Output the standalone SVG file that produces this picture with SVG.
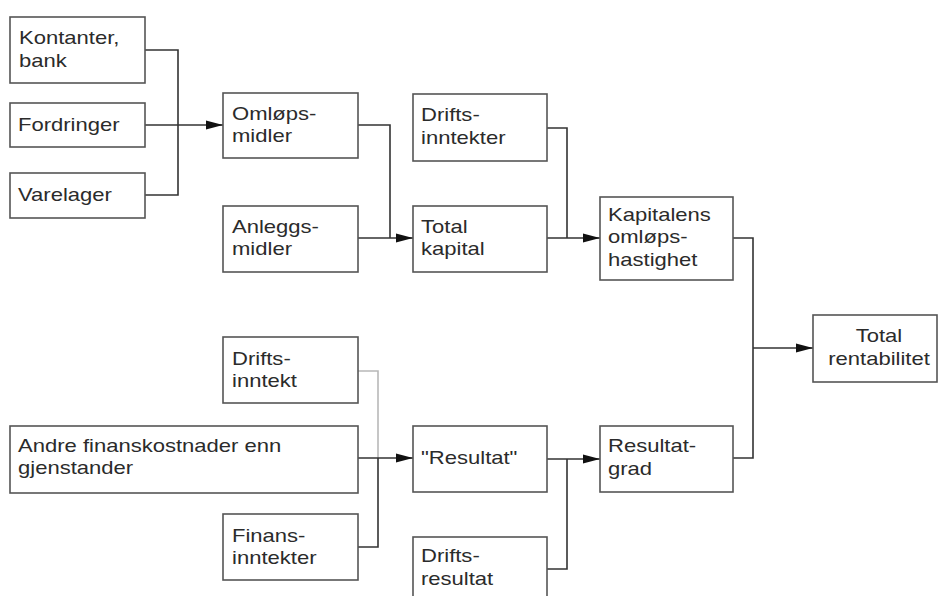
<svg xmlns="http://www.w3.org/2000/svg" width="938" height="596" viewBox="0 0 938 596">
<style>
.box{fill:#fff;stroke:#555;stroke-width:1.6}
.t{font-family:"Liberation Sans",Arial,sans-serif;font-size:19px;fill:#2b2b2b}
.c{fill:none;stroke:#333;stroke-width:1.6}
.cl{fill:none;stroke:#b8b8b8;stroke-width:1.6}
</style>
<defs>
<marker id="ah" markerUnits="userSpaceOnUse" markerWidth="18" markerHeight="10" refX="17" refY="5" orient="auto">
<path d="M0,0.5 L17,5 L0,9.5 z" fill="#111"/>
</marker>
</defs>
<rect width="938" height="596" fill="#fff"/>
<g id="connectors">
<path class="c" d="M145,50 H178 V125"/>
<path class="c" d="M145,195 H178 V125"/>
<path class="c" d="M145,125 H223" marker-end="url(#ah)"/>
<path class="c" d="M358,125 H390 V238"/>
<path class="c" d="M358,238 H413" marker-end="url(#ah)"/>
<path class="c" d="M547,128 H567 V238"/>
<path class="c" d="M547,238 H600" marker-end="url(#ah)"/>
<path class="c" d="M733,238 H753 V348"/>
<path class="c" d="M733,458 H753 V348"/>
<path class="c" d="M753,348 H813" marker-end="url(#ah)"/>
<path class="cl" d="M358,371 H378 V458"/>
<path class="c" d="M358,547 H378 V458"/>
<path class="c" d="M358,458 H413" marker-end="url(#ah)"/>
<path class="c" d="M547,459 H600" marker-end="url(#ah)"/>
<path class="c" d="M547,569 H567 V459"/>
</g>
<g id="kontanter">
<rect class="box" x="10" y="17" width="135" height="66"/>
<text class="t" transform="translate(19 44) scale(1.16 1)"><tspan x="0" y="0">Kontanter,</tspan><tspan x="0" y="23">bank</tspan></text>
</g>
<g id="fordringer">
<rect class="box" x="10" y="103" width="135" height="44"/>
<text class="t" transform="translate(18 131) scale(1.16 1)">Fordringer</text>
</g>
<g id="varelager">
<rect class="box" x="10" y="173" width="135" height="45"/>
<text class="t" transform="translate(18 201) scale(1.16 1)">Varelager</text>
</g>
<g id="omlopsmidler">
<rect class="box" x="223" y="93" width="135" height="65"/>
<text class="t" transform="translate(232 120) scale(1.16 1)"><tspan x="0" y="0">Omløps-</tspan><tspan x="0" y="22">midler</tspan></text>
</g>
<g id="anleggsmidler">
<rect class="box" x="223" y="206" width="135" height="66"/>
<text class="t" transform="translate(232 233) scale(1.16 1)"><tspan x="0" y="0">Anleggs-</tspan><tspan x="0" y="22">midler</tspan></text>
</g>
<g id="driftsinntekter">
<rect class="box" x="413" y="94" width="134" height="67"/>
<text class="t" transform="translate(421 121) scale(1.16 1)"><tspan x="0" y="0">Drifts-</tspan><tspan x="0" y="23">inntekter</tspan></text>
</g>
<g id="totalkapital">
<rect class="box" x="413" y="206" width="134" height="66"/>
<text class="t" transform="translate(421 233) scale(1.16 1)"><tspan x="0" y="0">Total</tspan><tspan x="0" y="22">kapital</tspan></text>
</g>
<g id="kapitalens">
<rect class="box" x="600" y="197" width="133" height="83"/>
<text class="t" transform="translate(608 221) scale(1.16 1)"><tspan x="0" y="0">Kapitalens</tspan><tspan x="0" y="22.5">omløps-</tspan><tspan x="0" y="45.5">hastighet</tspan></text>
</g>
<g id="totalrentabilitet">
<rect class="box" x="813" y="315" width="124" height="67"/>
<text class="t" text-anchor="middle" transform="translate(879 342) scale(1.16 1)"><tspan x="0" y="0">Total</tspan><tspan x="0" y="23">rentabilitet</tspan></text>
</g>
<g id="driftsinntekt">
<rect class="box" x="223" y="337" width="135" height="66"/>
<text class="t" transform="translate(232 365) scale(1.16 1)"><tspan x="0" y="0">Drifts-</tspan><tspan x="0" y="22">inntekt</tspan></text>
</g>
<g id="andre">
<rect class="box" x="10" y="426" width="348" height="67"/>
<text class="t" transform="translate(18 452) scale(1.16 1)"><tspan x="0" y="0">Andre finanskostnader enn</tspan><tspan x="0" y="22">gjenstander</tspan></text>
</g>
<g id="finansinntekter">
<rect class="box" x="223" y="514" width="135" height="66"/>
<text class="t" transform="translate(232 542) scale(1.16 1)"><tspan x="0" y="0">Finans-</tspan><tspan x="0" y="22">inntekter</tspan></text>
</g>
<g id="resultat">
<rect class="box" x="413" y="426" width="134" height="66"/>
<text class="t" transform="translate(421 464) scale(1.16 1)">"Resultat"</text>
</g>
<g id="resultatgrad">
<rect class="box" x="600" y="426" width="133" height="66"/>
<text class="t" transform="translate(608 452) scale(1.16 1)"><tspan x="0" y="0">Resultat-</tspan><tspan x="0" y="23">grad</tspan></text>
</g>
<g id="driftsresultat">
<rect class="box" x="413" y="537" width="134" height="70"/>
<text class="t" transform="translate(421 562) scale(1.16 1)"><tspan x="0" y="0">Drifts-</tspan><tspan x="0" y="23">resultat</tspan></text>
</g>
</svg>
